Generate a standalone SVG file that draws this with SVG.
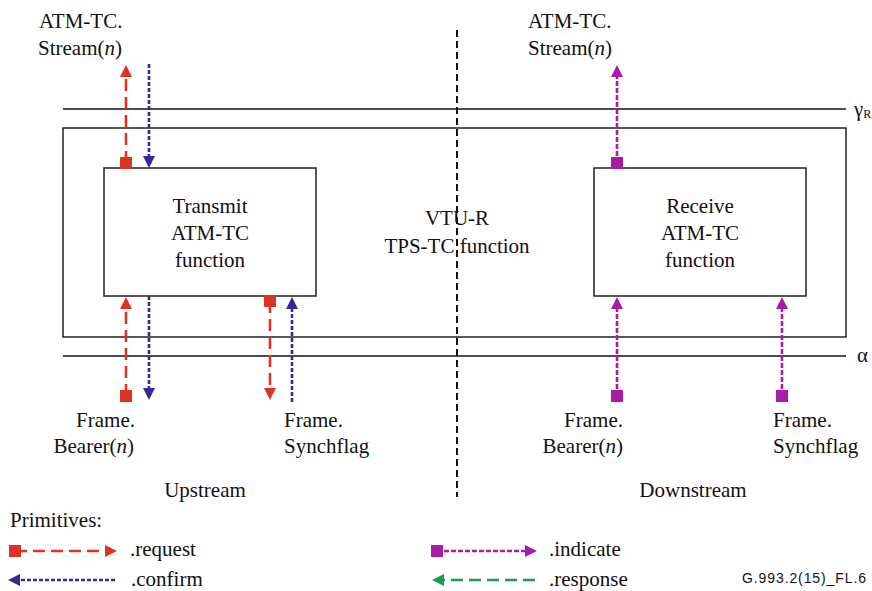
<svg xmlns="http://www.w3.org/2000/svg" width="872" height="591" viewBox="0 0 872 591">
<style>
text{font-family:'Liberation Serif','Times New Roman',Tinos,'DejaVu Serif',serif;font-size:21px;fill:#111}
text.s{font-family:'Liberation Sans Narrow','Liberation Sans',Arial,sans-serif;font-size:14px}
.box{fill:#fff;stroke:#222;stroke-width:1.5}
.ln{stroke:#111;stroke-width:1.5}
.req{stroke:#DD3322;stroke-width:2.6;stroke-dasharray:12 6;fill:none}
.cnf{stroke:#3D2599;stroke-width:2.6;stroke-dasharray:4 2;fill:none}
.ind{stroke:#A81CA6;stroke-width:2.6;stroke-dasharray:5 2;fill:none}
.rsp{stroke:#1E9A55;stroke-width:2.6;stroke-dasharray:12 6;fill:none}
</style>
<defs>
<marker id="ar" markerUnits="userSpaceOnUse" markerWidth="14" markerHeight="14" refX="0" refY="6" orient="auto" viewBox="0 0 14 12"><path d="M0,0 L12,6 L0,12 z" fill="#DD3322"/></marker>
<marker id="ab" markerUnits="userSpaceOnUse" markerWidth="14" markerHeight="14" refX="0" refY="6" orient="auto" viewBox="0 0 14 12"><path d="M0,0 L12,6 L0,12 z" fill="#3D2599"/></marker>
<marker id="am" markerUnits="userSpaceOnUse" markerWidth="14" markerHeight="14" refX="0" refY="6" orient="auto" viewBox="0 0 14 12"><path d="M0,0 L12,6 L0,12 z" fill="#A81CA6"/></marker>
<marker id="ag" markerUnits="userSpaceOnUse" markerWidth="14" markerHeight="14" refX="0" refY="6" orient="auto" viewBox="0 0 14 12"><path d="M0,0 L12,6 L0,12 z" fill="#1E9A55"/></marker>
<marker id="sr" markerUnits="userSpaceOnUse" markerWidth="12" markerHeight="12" refX="5.5" refY="5.5" orient="0" viewBox="0 0 11 11"><rect width="11" height="11" fill="#DD3322"/></marker>
<marker id="sm" markerUnits="userSpaceOnUse" markerWidth="12" markerHeight="12" refX="5.5" refY="5.5" orient="0" viewBox="0 0 11 11"><rect width="11" height="11" fill="#A81CA6"/></marker>
</defs>

<g id="reference-lines">
<line class="ln" x1="63" y1="109" x2="846" y2="109"/>
<line class="ln" x1="63" y1="356" x2="846" y2="356"/>
<text x="854" y="116">γ<tspan font-size="12" dy="2">R</tspan></text>
<text x="857" y="362">α</text>
</g>

<g id="vtu-r">
<rect class="box" x="63" y="128" width="783" height="209"/>
<text x="457" y="225" text-anchor="middle">VTU-R</text>
<text x="457" y="253" text-anchor="middle">TPS-TC function</text>
</g>

<g id="divider">
<line x1="457" y1="30" x2="457" y2="497" stroke="#111" stroke-width="2" stroke-dasharray="7 4"/>
</g>

<g id="transmit">
<rect class="box" x="104" y="168" width="212" height="128"/>
<text x="210" y="213" text-anchor="middle">Transmit</text>
<text x="210" y="240" text-anchor="middle">ATM-TC</text>
<text x="210" y="267" text-anchor="middle">function</text>
</g>

<g id="receive">
<rect class="box" x="594" y="168" width="212" height="128"/>
<text x="700" y="213" text-anchor="middle">Receive</text>
<text x="700" y="240" text-anchor="middle">ATM-TC</text>
<text x="700" y="267" text-anchor="middle">function</text>
</g>

<g id="labels">
<text x="39" y="28">ATM-TC.</text>
<text x="38" y="55">Stream(<tspan font-style="italic">n</tspan>)</text>
<text x="528" y="28">ATM-TC.</text>
<text x="528" y="55">Stream(<tspan font-style="italic">n</tspan>)</text>
<text x="135" y="427" text-anchor="end">Frame.</text>
<text x="134" y="453" text-anchor="end">Bearer(<tspan font-style="italic">n</tspan>)</text>
<text x="284" y="427">Frame.</text>
<text x="284" y="453">Synchflag</text>
<text x="623" y="427" text-anchor="end">Frame.</text>
<text x="623" y="453" text-anchor="end">Bearer(<tspan font-style="italic">n</tspan>)</text>
<text x="773" y="427">Frame.</text>
<text x="773" y="453">Synchflag</text>
<text x="205" y="497" text-anchor="middle">Upstream</text>
<text x="693" y="497" text-anchor="middle">Downstream</text>
</g>

<g id="connectors">
<line class="req" x1="126" y1="163" x2="126" y2="77" marker-start="url(#sr)" marker-end="url(#ar)"/>
<line class="cnf" x1="149" y1="64" x2="149" y2="156" marker-end="url(#ab)"/>
<line class="req" x1="126" y1="396" x2="126" y2="309" marker-start="url(#sr)" marker-end="url(#ar)"/>
<line class="cnf" x1="149" y1="296" x2="149" y2="388" marker-end="url(#ab)"/>
<line class="req" x1="270" y1="301" x2="270" y2="388" marker-start="url(#sr)" marker-end="url(#ar)"/>
<line class="cnf" x1="292" y1="402" x2="292" y2="309" marker-end="url(#ab)"/>
<line class="ind" x1="617" y1="163" x2="617" y2="77" marker-start="url(#sm)" marker-end="url(#am)"/>
<line class="ind" x1="617" y1="396" x2="617" y2="309" marker-start="url(#sm)" marker-end="url(#am)"/>
<line class="ind" x1="782" y1="396" x2="782" y2="309" marker-start="url(#sm)" marker-end="url(#am)"/>
</g>

<g id="legend">
<text x="10" y="527">Primitives:</text>
<line class="req" x1="15" y1="551" x2="105" y2="551" marker-start="url(#sr)" marker-end="url(#ar)"/>
<text x="130" y="556">.request</text>
<line class="cnf" x1="115" y1="580" x2="20" y2="580" marker-end="url(#ab)"/>
<text x="131" y="586">.confirm</text>
<line class="ind" x1="437" y1="551" x2="525" y2="551" marker-start="url(#sm)" marker-end="url(#am)"/>
<text x="549" y="556">.indicate</text>
<line class="rsp" x1="535" y1="580" x2="444" y2="580" marker-end="url(#ag)"/>
<text x="549" y="586">.response</text>
<text class="s" x="742" y="583" textLength="124" lengthAdjust="spacing">G.993.2(15)_FL.6</text>
</g>
</svg>
